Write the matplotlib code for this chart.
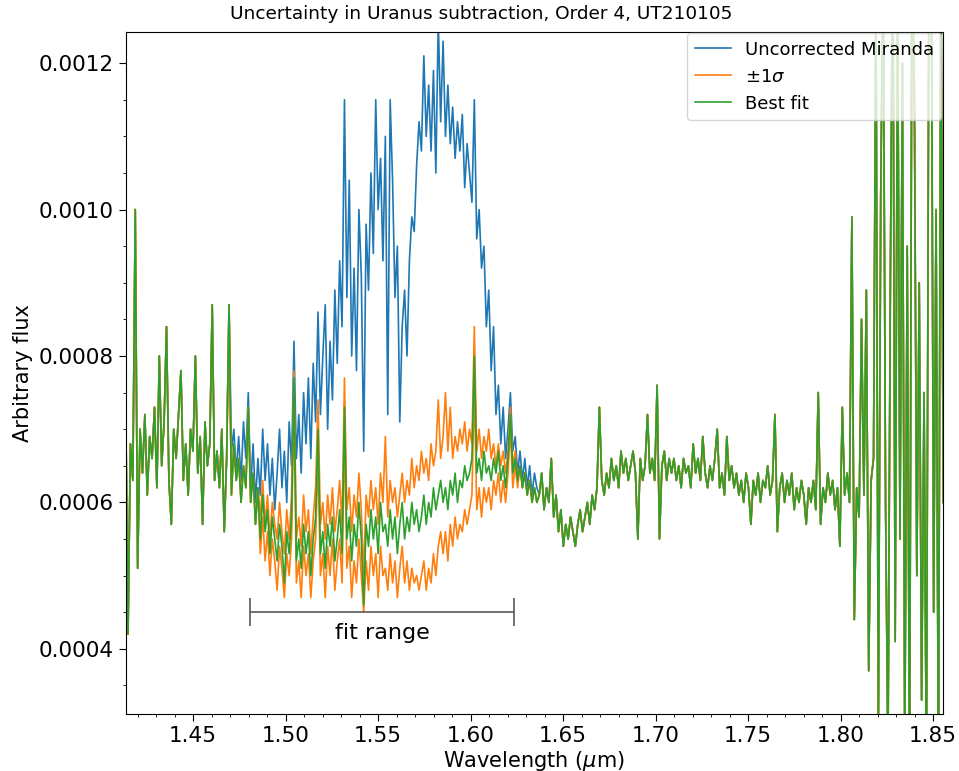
import matplotlib
matplotlib.use('Agg')
import matplotlib.pyplot as plt
import numpy as np
from matplotlib.ticker import AutoMinorLocator

# Wavelength grid of the extracted order (um)
wl_start, wl_end, n_pix = 1.4135, 1.8555, 341

# Best-fit corrected spectrum, in units of 1e-5
best_fit = [
    74, 42, 68, 63, 100, 51, 70, 64, 72, 61,
    69, 66, 73, 62, 80, 65, 71, 84, 63, 57,
    70, 66, 72, 78, 63, 68, 61, 70, 67, 80,
    64, 69, 57, 71, 65, 68, 87, 63, 67, 62,
    70, 56, 66, 87, 61, 68, 63, 66, 60, 65,
    62, 73, 60, 64, 57, 62, 55, 61, 56, 59,
    53, 58, 55, 52, 57, 54, 49, 56, 53, 58,
    77, 52, 55, 51, 57, 53, 56, 50, 55, 58,
    70, 53, 56, 51, 57, 54, 58, 52, 55, 59,
    53, 73, 55, 58, 52, 57, 54, 60, 55, 46,
    57, 54, 59, 55, 58, 53, 60, 56, 57, 54,
    59, 55, 58, 53, 57, 60, 55, 58, 56, 60,
    57, 59, 56, 58, 61, 57, 60, 58, 62, 59,
    61, 63, 60, 62, 59, 63, 61, 64, 60, 63,
    62, 65, 63, 64, 66, 80, 64, 66, 63, 67,
    64, 65, 63, 66, 64, 67, 63, 65, 62, 66,
    72, 64, 66, 63, 65, 62, 64, 61, 63, 60,
    62, 60, 61, 64, 59, 62, 60, 66, 58, 61,
    56, 59, 54, 57, 55, 58, 56, 54, 57, 59,
    56, 58, 60, 57, 61, 59, 62, 73, 63, 61,
    64, 62, 66, 63, 65, 62, 67, 64, 66, 63,
    65, 67, 64, 55, 66, 63, 65, 72, 64, 66,
    63, 76, 55, 65, 67, 63, 66, 64, 66, 63,
    65, 62, 66, 64, 65, 62, 68, 64, 66, 63,
    69, 64, 62, 65, 63, 66, 70, 62, 64, 61,
    69, 63, 65, 62, 64, 61, 63, 60, 64, 62,
    57, 63, 61, 64, 60, 63, 62, 65, 61, 63,
    72, 56, 62, 64, 60, 63, 61, 64, 59, 62,
    60, 63, 61, 57, 62, 60, 63, 59, 75, 57,
    62, 60, 64, 61, 63, 59, 62, 54, 73, 61,
    64, 60, 99, 44, 62, 58, 85, 61, 89, 37,
    63, 66, 130, 28, 102, 135, 60, 25, 90, 140,
    41, 130, 55, 120, 25, 95, 20, 140, 115, 50,
    90, 33, 75, 22, 130, 140, 45, 100, 20, 135,
    60,
]

# Uncorrected Miranda where the Uranus scattered light dominates (pixels 44-171)
raw_start = 44
raw_mid = [
    67, 70, 64, 69, 63, 71, 66, 75, 62, 68,
    60, 66, 61, 70, 63, 68, 61, 66, 59, 64,
    70, 62, 67, 60, 71, 65, 82, 66, 72, 64,
    75, 68, 77, 66, 79, 71, 86, 72, 80, 87,
    70, 82, 74, 89, 79, 93, 84, 115, 88, 104,
    80, 92, 78, 100, 91, 67, 98, 89, 105, 94,
    115, 100, 107, 93, 110, 72, 115, 104, 88, 95,
    71, 84, 89, 80, 93, 99, 97, 106, 112, 108,
    121, 110, 117, 108, 119, 105, 126, 112, 123, 110,
    117, 109, 114, 107, 112, 108, 113, 103, 109, 105,
    101, 115, 96, 100, 92, 95, 84, 89, 78, 84,
    72, 76, 68, 73, 66, 70, 75, 67, 69, 64,
    67, 63, 66, 62, 65, 61, 64, 62,
]

# +/- 1 sigma scaling of the Uranus model (pixels 56-163)
sig_start = 56
sig_hi = [
    58, 63, 57, 61, 55, 60, 57, 55, 60, 56,
    53, 59, 55, 61, 78, 55, 58, 54, 61, 56,
    59, 53, 58, 62, 74, 57, 60, 55, 61, 57,
    62, 56, 59, 63, 57, 77, 59, 62, 56, 61,
    58, 64, 59, 50, 61, 58, 63, 59, 62, 57,
    64, 60, 69, 58, 63, 60, 62, 58, 61, 64,
    60, 63, 61, 66, 62, 65, 63, 67, 64, 66,
    63, 68, 65, 67, 74, 66, 69, 75, 67, 73,
    66, 69, 67, 70, 68, 71, 67, 70, 68, 84,
    67, 70, 66, 69, 67, 70, 66, 68, 65, 68,
    65, 67, 64, 67, 73, 65, 67, 63,
]
sig_lo = [
    53, 58, 52, 56, 50, 55, 52, 48, 54, 51,
    47, 53, 50, 55, 74, 49, 52, 47, 54, 50,
    53, 47, 52, 55, 66, 50, 53, 47, 54, 50,
    55, 48, 52, 55, 49, 70, 51, 54, 47, 52,
    49, 55, 50, 45, 52, 48, 54, 50, 53, 47,
    54, 50, 51, 48, 53, 49, 52, 47, 51, 54,
    49, 52, 48, 51, 49, 50, 48, 50, 52, 48,
    51, 49, 53, 50, 54, 56, 53, 56, 52, 57,
    54, 58, 55, 57, 56, 59, 57, 59, 61, 76,
    59, 62, 58, 62, 60, 62, 59, 63, 61, 64,
    60, 63, 60, 64, 70, 62, 65, 62,
]

fit_range = (1.4806, 1.6237)

wl = np.linspace(wl_start, wl_end, n_pix)
fit = np.array(best_fit) * 1e-5


def splice(start, values):
    out = fit.copy()
    out[start:start + len(values)] = np.array(values) * 1e-5
    return out


raw = splice(raw_start, raw_mid)
hi = splice(sig_start, sig_hi)
lo = splice(sig_start, sig_lo)

fig = plt.figure(figsize=(9.59, 7.71), dpi=100)
ax = fig.add_axes([0.131, 0.074, 0.8526, 0.8849])

ax.plot(wl, raw, color='tab:blue', lw=1.2, label='Uncorrected Miranda')
ax.plot(wl, hi, color='tab:orange', lw=1.2, label=r'$\pm1\sigma$')
ax.plot(wl, lo, color='tab:orange', lw=1.2)
ax.plot(wl, fit, color='tab:green', lw=1.2, label='Best fit')

# fit range marker
mid = 0.5 * (fit_range[0] + fit_range[1])
half = 0.5 * (fit_range[1] - fit_range[0])
ax.errorbar(mid, 0.00045, xerr=half, fmt='none', ecolor='0.35', elinewidth=1.2,
            capsize=10, capthick=1.2)
ax.text(mid, 0.000422, 'fit range', ha='center', va='center', fontsize=16)

ax.set_xlim(wl_start, wl_end)
ax.set_ylim(0.000311, 0.001243)
ax.set_xticks([1.45, 1.50, 1.55, 1.60, 1.65, 1.70, 1.75, 1.80, 1.85])
ax.set_yticks([0.0004, 0.0006, 0.0008, 0.0010, 0.0012])
ax.xaxis.set_minor_locator(AutoMinorLocator(5))
ax.yaxis.set_minor_locator(AutoMinorLocator(4))
ax.tick_params(which='major', length=5, labelsize=15.5)
ax.tick_params(which='minor', length=2)

ax.set_xlabel(r'Wavelength ($\mu$m)', fontsize=15, labelpad=2)
ax.set_ylabel('Arbitrary flux', fontsize=15)
fig.suptitle('Uncertainty in Uranus subtraction, Order 4, UT210105',
             fontsize=13.3, x=0.502, y=0.993, va='top')
ax.legend(loc='upper right', fontsize=13, borderaxespad=0.1)

fig.savefig('out.png', dpi=100)
